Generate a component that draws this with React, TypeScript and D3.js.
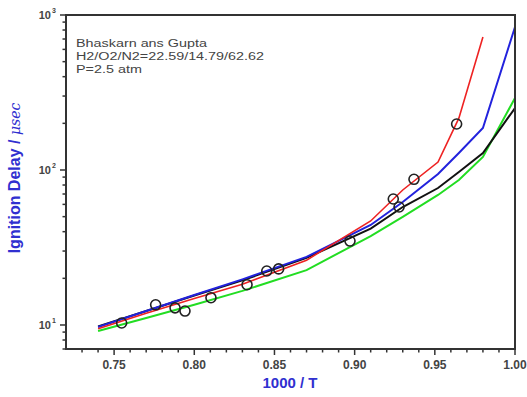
import React from "react";
import * as d3 from "d3";

const W = 527;
const H = 397;

// simulation curves: 1000/T grid and ignition delays (μsec)
const xSim = [0.74, 0.77, 0.8, 0.83, 0.87, 0.91, 0.93, 0.952, 0.965, 0.98, 1.0];
const redSim = [9.45, 11.9, 14.8, 18.3, 26.2, 46.9, 74.3, 112.6, 216, 721, null];
const blueSim = [9.71, 12.3, 15.6, 19.7, 27.5, 44.2, 62.2, 94.2, 128.8, 186.6, 837];
const blackSim = [9.78, 12.3, 15.5, 19.4, 27.1, 41.9, 57.7, 76.5, 97.1, 128.8, 251];
const greenSim = [9.15, 11.1, 13.5, 16.6, 22.6, 37.5, 49.8, 69.0, 86.2, 121.3, 291.5];

// experimental points
const expX = [0.7547, 0.7759, 0.788, 0.7942, 0.8104, 0.8329, 0.8452, 0.8526, 0.8971, 0.9241, 0.9277, 0.937, 0.9636];
const expY = [10.3, 13.5, 12.9, 12.3, 15.0, 18.2, 22.3, 23.0, 34.8, 65.0, 57.7, 87.1, 198];

const xMajor = [0.75, 0.8, 0.85, 0.9, 0.95, 1.0];
const xTickLabels = ["0.75", "0.80", "0.85", "0.90", "0.95", "1.00"];
const yMajor = [10, 100, 1000];
const yExp = ["1", "2", "3"];

const noteLines = ["Bhaskarn ans Gupta", "H2/O2/N2=22.59/14.79/62.62", "P=2.5 atm"];

export default function App() {
  const L = 66, R = 515, T = 15, B = 349;
  const x = d3.scaleLinear().domain([0.72, 1.0]).range([L, R]);
  const y = d3.scaleLog().domain([7, 1000]).range([B, T]);

  const mk = (vals: (number | null)[]) =>
    d3
      .line<[number, number | null]>()
      .defined((d) => d[1] != null)
      .x((d) => x(d[0]))
      .y((d) => y(d[1] as number))(xSim.map((v, i) => [v, vals[i]]));

  const xMinor = d3.range(73, 100).map((v) => v / 100).filter((v) => Math.round(v * 100) % 5 !== 0);
  const yMinor: number[] = [];
  [1, 10, 100].forEach((dec) => {
    for (let k = 2; k <= 9; k++) {
      const v = k * dec;
      if (v >= 7 && v <= 1000) yMinor.push(v);
    }
  });

  const axisColor = "#333";
  const font = "Arial, 'Liberation Sans', sans-serif";

  return (
    <svg width={W} height={H} style={{ position: "absolute", left: 0, top: 0, background: "#fff" }}>
      <rect x={0} y={0} width={W} height={H} fill="#fff" />
      {/* curves */}
      <path d={mk(greenSim) || ""} fill="none" stroke="#22dd22" strokeWidth={2} />
      <path d={mk(blackSim) || ""} fill="none" stroke="#111" strokeWidth={2} />
      <path d={mk(blueSim) || ""} fill="none" stroke="#2222dd" strokeWidth={2} />
      <path d={mk(redSim) || ""} fill="none" stroke="#ee2222" strokeWidth={1.6} />
      {expX.map((v, i) => (
        <circle key={i} cx={x(v)} cy={y(expY[i])} r={5} fill="none" stroke="#222" strokeWidth={1.6} />
      ))}
      {/* frame */}
      <rect x={L} y={T} width={R - L} height={B - T} fill="none" stroke={axisColor} strokeWidth={2} />
      {/* x ticks */}
      {xMajor.map((v, i) => (
        <g key={"xm" + i}>
          <line x1={x(v)} x2={x(v)} y1={B} y2={B + 6} stroke={axisColor} strokeWidth={1.5} />
          <text x={x(v)} y={B + 20} textAnchor="middle" fontFamily={font} fontWeight="bold" fontSize={12} fill="#444">
            {xTickLabels[i]}
          </text>
        </g>
      ))}
      {xMinor.map((v, i) => (
        <line key={"xn" + i} x1={x(v)} x2={x(v)} y1={B} y2={B + 3.5} stroke={axisColor} strokeWidth={1.5} />
      ))}
      {/* y ticks */}
      {yMajor.map((v, i) => (
        <g key={"ym" + i}>
          <line x1={L - 6} x2={L} y1={y(v)} y2={y(v)} stroke={axisColor} strokeWidth={1.5} />
          <text x={51} y={y(v) + 4} textAnchor="end" fontFamily={font} fontWeight="bold" fontSize={11} fill="#444">
            10
          </text>
          <text x={52} y={y(v) - 2} textAnchor="start" fontFamily={font} fontWeight="bold" fontSize={7} fill="#444">
            {yExp[i]}
          </text>
        </g>
      ))}
      {yMinor.map((v, i) => (
        <line key={"yn" + i} x1={L - 3.5} x2={L} y1={y(v)} y2={y(v)} stroke={axisColor} strokeWidth={1.5} />
      ))}
      {/* annotation */}
      <g transform="translate(76,0) scale(1.25,1)">
        {noteLines.map((s, i) => (
          <text key={"n" + i} x={0} y={47 + i * 13} fontFamily={font} fontSize={11.5} fill="#444">
            {s}
          </text>
        ))}
      </g>
      {/* axis titles */}
      <text x={290} y={388} textAnchor="middle" fontFamily={font} fontWeight="bold" fontSize={15} fill="#3030d0">
        1000 / T
      </text>
      <text
        transform={`translate(20,178) rotate(-90)`}
        textAnchor="middle"
        fontFamily={font}
        fontWeight="bold"
        fontSize={16}
        fill="#3030d0"
      >
        Ignition Delay /{" "}
        <tspan fontWeight="normal" fontStyle="italic" fontFamily="'DejaVu Serif', serif" fontSize={14}>
          μsec
        </tspan>
      </text>
    </svg>
  );
}
